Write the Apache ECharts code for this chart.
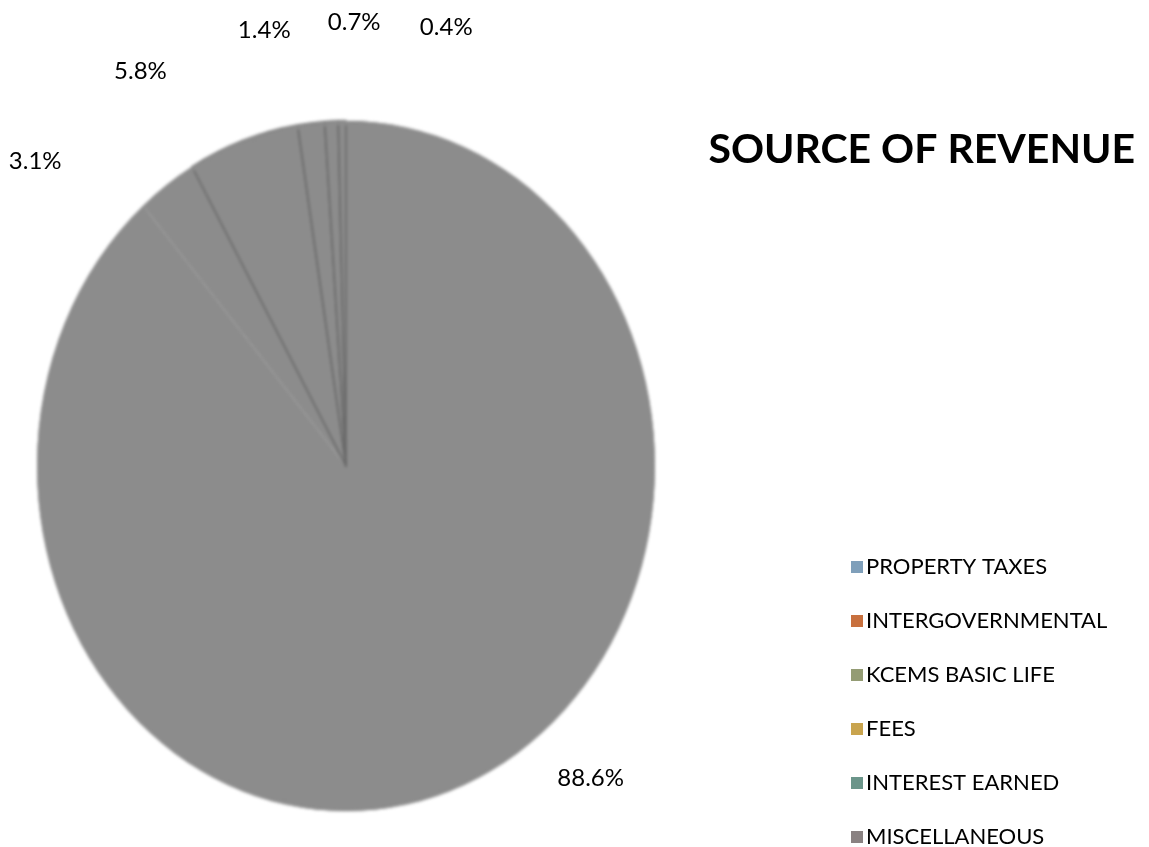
<!DOCTYPE html>
<html>
<head>
<meta charset="utf-8">
<script src="https://cdn.jsdelivr.net/npm/echarts@6/dist/echarts.min.js"></script>
<style>
  html, body { margin: 0; padding: 0; background: #ffffff; }
  #wrap { position: relative; width: 1149px; height: 847px; overflow: hidden; }
  #pie { position: absolute; left: 0; top: 0; width: 1149px; height: 847px;
         transform-origin: 346px 466px; transform: scaleY(1.117); filter: blur(1.6px); }
  #over { position: absolute; left: 0; top: 0; width: 1149px; height: 847px; }
</style>
</head>
<body>
<div id="wrap"><div id="pie"></div><div id="over"></div></div>
<script>
const categories = ['PROPERTY TAXES', 'INTERGOVERNMENTAL', 'KCEMS BASIC LIFE', 'FEES', 'INTEREST EARNED', 'MISCELLANEOUS'];
const values = [88.6, 3.1, 5.8, 1.4, 0.7, 0.4];
const legendColors = ['#7f9fba', '#c8703e', '#949c74', '#c9a44e', '#6b958a', '#8a8282'];
const titleText = 'SOURCE OF REVENUE';

// label nudges (pixels) away from the library's default outside position
const labelNudge = [[84, -15], [-77, -20], [-58, -66], [-11, -89], [56, -95], [136, -90]];
// slices whose edges show a darker separator line
const outlined = [false, false, true, true, true, true];

const sliceFill = '#8c8c8c';
const data = categories.map((c, i) => ({ name: c, value: values[i] }));
const pieData = data.map((d, i) => ({
  name: d.name, value: d.value,
  itemStyle: outlined[i] ? { borderColor: '#6a6a6a', borderWidth: 1.6 } : { borderWidth: 0 }
}));

const pieChart = echarts.init(document.getElementById('pie'), null, { renderer: 'canvas' });
pieChart.setOption({
  animation: false,
  series: [
    {
      type: 'pie', center: [346, 466], radius: [0, 309], startAngle: 90, clockwise: true,
      silent: true, label: { show: false }, labelLine: { show: false },
      itemStyle: { color: sliceFill },
      data: pieData
    },
    {
      type: 'pie', center: [346, 466], radius: [305, 309], startAngle: 90, clockwise: true,
      silent: true, label: { show: false }, labelLine: { show: false },
      itemStyle: { color: sliceFill, borderWidth: 0 },
      data: data
    }
  ]
});

const overChart = echarts.init(document.getElementById('over'), null, { renderer: 'canvas' });
overChart.setOption({
  animation: false,
  title: {
    text: titleText, right: 9, top: 124,
    textStyle: { fontFamily: 'Lato', fontWeight: 'bold', fontSize: 41, color: '#000' }
  },
  legend: {
    orient: 'vertical', left: 846, top: 550, height: 300, itemWidth: 12, itemHeight: 12, itemGap: 30,
    selectedMode: false, icon: 'rect',
    textStyle: { fontFamily: 'Lato', fontSize: 22, color: '#000', lineHeight: 24, padding: [0, 0, 0, -2] },
    data: categories.map((c, i) => ({ name: c, itemStyle: { color: legendColors[i] } }))
  },
  series: [{
    type: 'pie', center: [346, 466], radius: [0, 309], startAngle: 90, clockwise: true,
    silent: true, avoidLabelOverlap: false, minShowLabelAngle: 0,
    itemStyle: { color: 'rgba(0,0,0,0)' },
    label: {
      show: true, position: 'outside', fontFamily: 'Lato', fontSize: 24, color: '#000',
      formatter: p => p.value.toFixed(1) + '%'
    },
    labelLine: { show: false, length: 40, length2: 0 },
    labelLayout: p => ({ hideOverlap: false, dx: labelNudge[p.dataIndex][0], dy: labelNudge[p.dataIndex][1] }),
    data: data
  }]
});
</script>
</body>
</html>
